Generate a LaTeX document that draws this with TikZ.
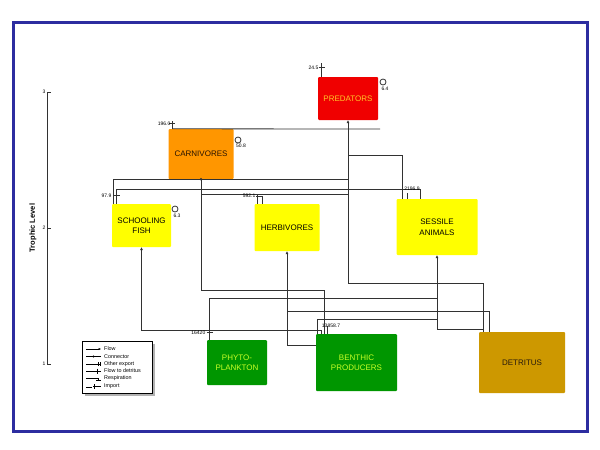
\documentclass[tikz,border=0pt]{standalone}
\usepackage{fontspec}
\setmainfont{Liberation Sans}
\usetikzlibrary{arrows.meta}
\definecolor{frameblue}{RGB}{45,45,160}
\definecolor{predred}{RGB}{240,0,0}
\definecolor{predtxt}{RGB}{255,200,40}
\definecolor{carnorange}{RGB}{255,150,0}
\definecolor{boxyellow}{RGB}{255,255,0}
\definecolor{boxgreen}{RGB}{0,150,0}
\definecolor{greentxt}{RGB}{200,255,40}
\definecolor{detrbrown}{RGB}{205,152,0}
\definecolor{linegray}{RGB}{50,50,50}
\begin{document}
\begin{tikzpicture}[x=1pt,y=-1pt,
  box/.style={rectangle, rounded corners=1pt, inner sep=0pt, align=center,
    font=\fontsize{8}{10.5}\selectfont},
  conn/.style={draw=linegray, line width=0.8pt},
  flow/.style={conn, -{Triangle[length=3pt,width=2.6pt]}},
  numlbl/.style={font=\fontsize{5}{6}\selectfont, inner sep=0.5pt, text=black},
  legtxt/.style={font=\fontsize{5.4}{6}\selectfont, inner sep=0pt, anchor=west}]
\useasboundingbox (0,0) rectangle (600,450);
\fill[white] (0,0) rectangle (600,450);
\draw[frameblue, line width=3pt] (13.5,22.5) rectangle (587.5,431.5);

% boxes
\node[box, fill=predred, text=predtxt, minimum width=60pt, minimum height=43pt] (pred) at (348,98.5) {PREDATORS};
\node[box, fill=carnorange, text=black!85!orange, minimum width=65pt, minimum height=50pt] (carn) at (201,154) {CARNIVORES};
\node[box, fill=boxyellow, minimum width=59pt, minimum height=43pt] (fish) at (141.5,225.5) {SCHOOLING\\FISH};
\node[box, fill=boxyellow, minimum width=65pt, minimum height=47pt] (herb) at (287,227.5) {HERBIVORES};
\node[box, fill=boxyellow, minimum width=81pt, minimum height=56pt] (sess) at (437,227) {SESSILE\\ANIMALS};
\node[box, fill=boxgreen, text=greentxt, minimum width=60pt, minimum height=45pt] (phyto) at (237,362.5) {PHYTO-\\PLANKTON};
\node[box, fill=boxgreen, text=greentxt, minimum width=81pt, minimum height=57pt] (benth) at (356.5,362.5) {BENTHIC\\PRODUCERS};
\node[box, fill=detrbrown, text=black!80!brown, minimum width=86pt, minimum height=61pt] (detr) at (522,362.5) {DETRITUS};

% junction coordinates
\coordinate (jp) at (348,283);
\coordinate (j179) at (348,179);
\coordinate (j194) at (348,194);
\coordinate (j155) at (348,155);
\coordinate (j189) at (201,189);
\coordinate (jtop) at (380,129);

% flows into predators
\draw[flow] ([xshift=5pt]detr.north west) |- (jp) -- (pred.south);
\draw[conn] ([xshift=2pt]fish.north west) |- (j179);
\draw[conn] ([xshift=6pt]sess.north west) |- (j155);
\draw[conn] ([xshift=3pt]herb.north west) |- (j194);
\draw[conn] (carn.south) -- ++(0,15) -| (j194);
% into carnivores
\draw[conn] ([xshift=5pt]fish.north west) |- (j189);
\draw[conn] ([xshift=-57pt]sess.north east) |- (j189);
\fill[linegray] (carn.south) circle (1.4pt);
\draw[conn] (carn.south) -- ++(0,111) -| ([xshift=9pt]benth.north west);
\draw[conn] ([xshift=4pt]carn.north west) -- (jtop);
% into schooling fish
\draw[flow] ([xshift=6pt]benth.north west) -- ++(0,-3) -| (fish.south);
% into herbivores
\draw[flow] ([yshift=-12pt]benth.north west) -| (herb.south);
% into sessile animals
\draw[flow] ([xshift=5pt]detr.north west) ++(0,-2) -| (sess.south);
\draw[conn] ([xshift=3pt]phyto.north west) |- (437,298);
\draw[conn] ([xshift=2pt]benth.north west) |- (437,319);
% to detritus
\draw[conn] ([xshift=11pt]detr.north west) |- (287,311);

% imports
\draw[conn] (pred.north west) ++(4,0) -- ++(0,-14) (pred.north west) ++(1,-9) -- ++(6,0);
\node[numlbl, anchor=east] (i1) at (319,68) {24.5};
\draw[conn] (carn.north west) ++(4,0) -- ++(0,-8) (carn.north west) ++(1,-5) -- ++(6,0);
\node[numlbl, anchor=east] (i2) at (171,124) {196.0};
\draw[conn] (fish.north west) ++(8,-8) -- ++(-6,0);
\node[numlbl, anchor=east] (i3) at (112,196) {97.9};
\draw[conn] (herb.north west) ++(2,-7) -- ++(6,0) -- ++(0,7);
\node[numlbl, anchor=east] (i4) at (256,196) {592.1};
\draw[conn] (sess.north west) ++(11,0) -- ++(0,-6);
\node[numlbl] (i5) at (412,189) {2196.9};
\draw[conn] (phyto.north west) ++(0,-7) -- ++(6,0);
\node[numlbl, anchor=east] (i6) at (206,333) {16420};
\draw[conn] (benth.north west) ++(12,0) -- ++(0,-8);
\node[numlbl] (i7) at (331,326) {13858.7};

% respiration
\draw[conn] (383,82) circle (3pt);
\node[numlbl] (r1) at (385,89) {6.4};
\draw[conn] (238,140) circle (3pt);
\node[numlbl] (r2) at (241,146) {50.8};
\draw[conn] (175,209) circle (3pt);
\node[numlbl] (r3) at (177,216) {6.3};

% axis
\draw[linegray, line width=0.8pt] (47,92) -- (47,364);
\foreach \yy/\lab in {92/3,228/2,364/1}{
  \draw[linegray, line width=0.8pt] (47,\yy) -- (51,\yy);
  \node[font=\fontsize{5}{6}\selectfont, anchor=east, inner sep=0.5pt] at (46,\yy) {\lab};
}
\node[font=\bfseries\fontsize{7.5}{9}\selectfont, rotate=90] (axlbl) at (33,228) {Trophic Level};

% legend
\fill[gray!60] (85,344) rectangle (155,396);
\draw[black, line width=0.5pt, fill=white] (82,341) rectangle (152,393);
\draw[black, line width=0.5pt, -{Triangle[length=2.5pt,width=2pt]}] (86,349) -- (101,349);
\node[legtxt] at (104,349) {Flow};
\draw[black, line width=0.5pt] (86,356.5) -- (101,356.5);
\fill[black] (93.5,356.5) circle (1.2pt);
\node[legtxt] at (104,356.5) {Connector};
\draw[black, line width=0.5pt] (86,364) -- (101,364) (98,362) -- (98,366) (100,362) -- (100,366);
\node[legtxt] at (104,364) {Other export};
\draw[black, line width=0.5pt] (86,371) -- (101,371) (97,368.5) -- (97,373.5);
\node[legtxt] at (104,371) {Flow to detritus};
\draw[black, line width=0.5pt] (86,378) -- (98,378) -- (98,381) (96,380) -- (101,380);
\node[legtxt] at (104,378.5) {Respiration};
\draw[black, line width=0.5pt] (86,387) -- (92,387) (93,386) -- (101,386) (94,384) -- (94,388.5);
\node[legtxt] at (104,386.5) {Import};
\end{tikzpicture}
\end{document}
